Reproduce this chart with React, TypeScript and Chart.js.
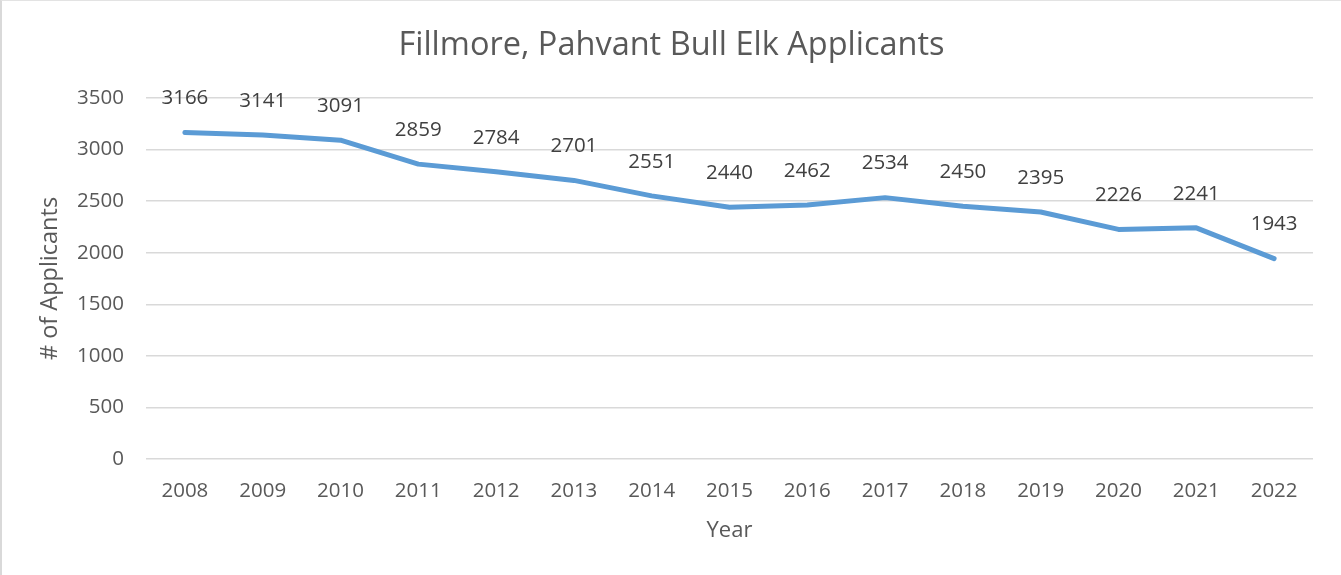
import React, { useEffect, useRef } from "react";
import { Chart, registerables } from "chart.js";

Chart.register(...registerables);

const years = ["2008","2009","2010","2011","2012","2013","2014","2015","2016","2017","2018","2019","2020","2021","2022"];
const applicants = [3166,3141,3091,2859,2784,2701,2551,2440,2462,2534,2450,2395,2226,2241,1943];
const yTicks = [0,500,1000,1500,2000,2500,3000,3500];

const FONT = "'Open Sans', 'Noto Sans', sans-serif";
const TEXT = "#595959";

const labelPlugin = {
  id: "pointLabels",
  afterDatasetsDraw(chart: any) {
    const ctx = chart.ctx;
    const meta = chart.getDatasetMeta(0);
    ctx.save();
    ctx.font = `20.5px ${FONT}`;
    ctx.fillStyle = "#404040";
    ctx.textAlign = "center";
    ctx.textBaseline = "middle";
    meta.data.forEach((pt: any, i: number) => {
      ctx.fillText(String(applicants[i]), pt.x, pt.y - 34);
    });
    ctx.restore();
  },
};

export default function App() {
  const ref = useRef<HTMLCanvasElement | null>(null);
  useEffect(() => {
    document.body.style.margin = "0";
    const chart = new Chart(ref.current!, {
      type: "line",
      data: {
        labels: years,
        datasets: [
          {
            data: applicants,
            borderColor: "#5B9BD5",
            borderWidth: 5,
            pointRadius: 0,
            tension: 0,
            borderCapStyle: "round",
            borderJoinStyle: "round",
            fill: false,
          },
        ],
      },
      options: {
        animation: false,
        responsive: false,
        maintainAspectRatio: false,
        layout: { padding: { left: 28, right: 28, top: 0, bottom: 0 } },
        plugins: {
          legend: { display: false },
          tooltip: { enabled: false },
          title: {
            display: true,
            text: "Fillmore, Pahvant Bull Elk Applicants",
            color: TEXT,
            font: { family: FONT, size: 32.5, weight: "normal" },
            padding: { top: 25, bottom: 33 },
          },
        },
        scales: {
          x: {
            offset: true,
            grid: { display: false, drawTicks: false },
            border: { display: false },
            ticks: { color: TEXT, font: { family: FONT, size: 20.5 }, padding: 20, maxRotation: 0, autoSkip: false },
            title: {
              display: true,
              text: "Year",
              color: TEXT,
              font: { family: FONT, size: 22 },
              padding: { top: 31, bottom: 31 },
            },
            afterFit(scale: any) {
              scale.height = 116;
            },
          },
          y: {
            min: 0,
            max: 3500,
            afterBuildTicks(scale: any) {
              scale.ticks = yTicks.map((v) => ({ value: v }));
            },
            grid: { color: "#D9D9D9", lineWidth: 1.5, drawTicks: false },
            border: { display: false },
            ticks: {
              color: TEXT,
              font: { family: FONT, size: 20.5 },
              padding: 22,
              callback: (v: any) => String(v),
            },
            title: {
              display: true,
              text: "# of Applicants",
              color: TEXT,
              font: { family: FONT, size: 23.5 },
              padding: { top: 6, bottom: 6 },
            },
            afterFit(scale: any) {
              scale.width = 116;
            },
          },
        },
      },
      plugins: [labelPlugin],
    } as any);
    return () => chart.destroy();
  }, []);
  return (
    <div
      style={{
        position: "absolute",
        left: 0,
        top: 0,
        width: 1341,
        height: 575,
        background: "#fff",
        boxSizing: "border-box",
        borderLeft: "2px solid #D9D9D9",
        borderTop: "1px solid #E3E3E3",
      }}
    >
      <canvas ref={ref} width={1339} height={574} style={{ display: "block" }} />
    </div>
  );
}
